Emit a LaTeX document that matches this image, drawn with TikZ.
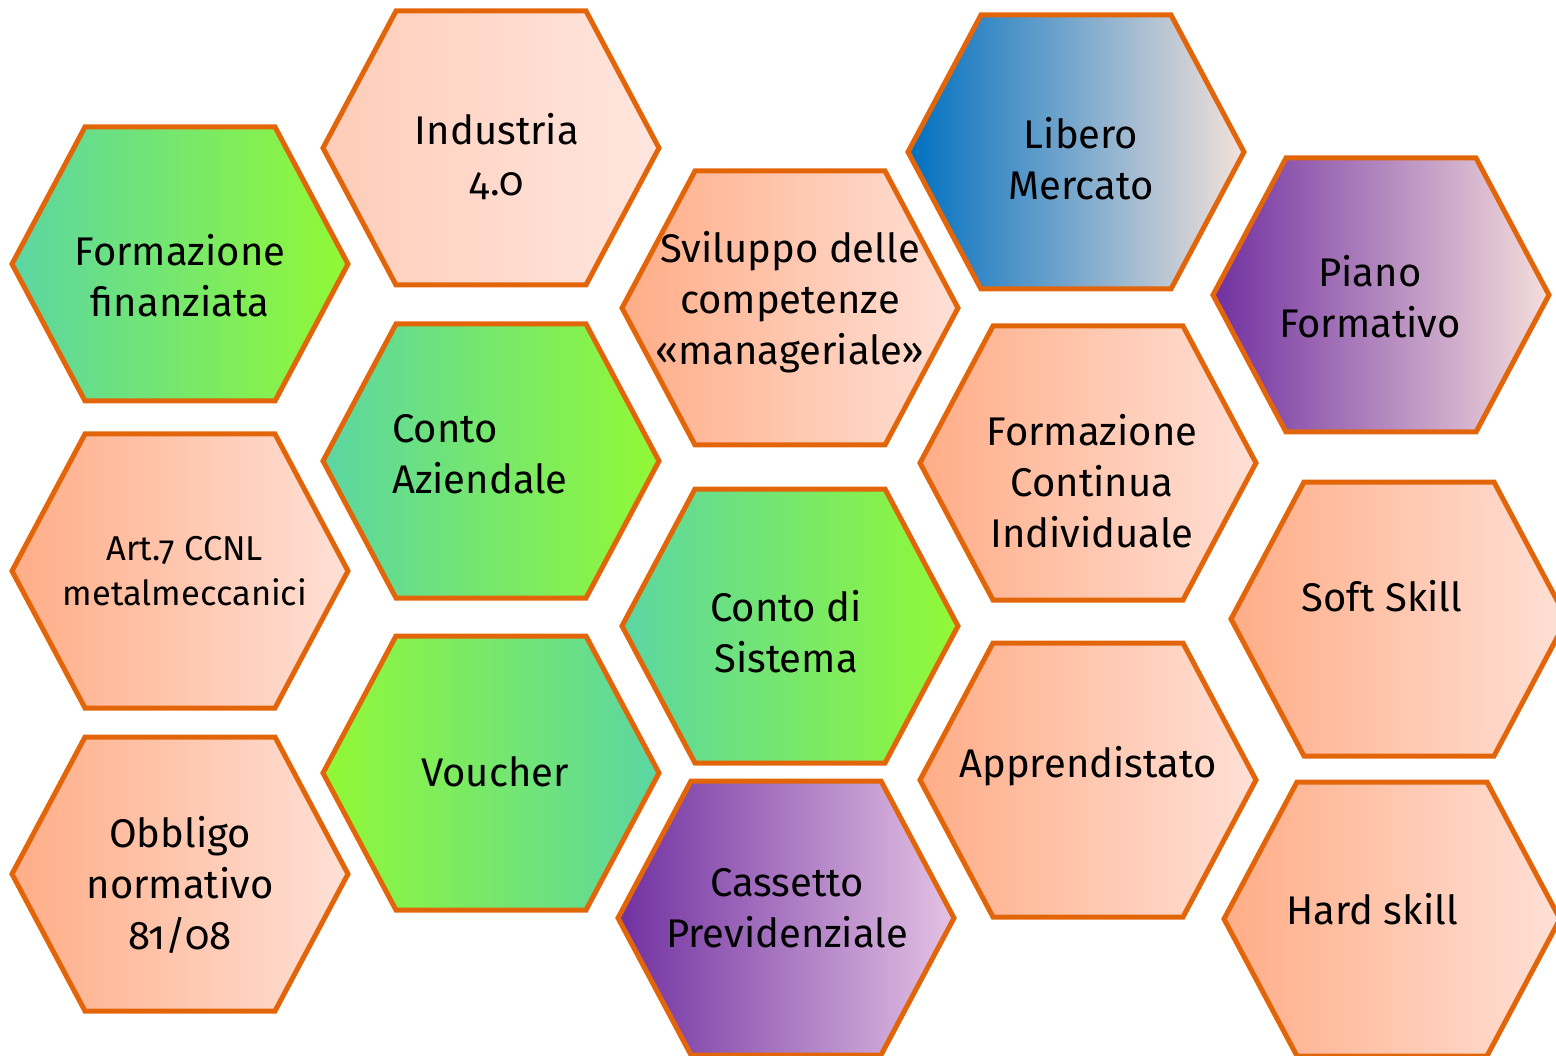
\documentclass[tikz,border=0pt]{standalone}
\usepackage{fontspec}
\setmainfont{Fira Sans}[Numbers=OldStyle]
\definecolor{hexline}{HTML}{E3650A}
\definecolor{peachL}{HTML}{FFAD87}
\definecolor{peachR}{HTML}{FFE0D6}
\definecolor{lightL}{HTML}{FFCCB8}
\definecolor{lightR}{HTML}{FFE6DF}
\definecolor{greenL}{HTML}{5BD6A3}
\definecolor{greenR}{HTML}{92F935}
\definecolor{blueL}{HTML}{0070C0}
\definecolor{blueR}{HTML}{F4E1DA}
\definecolor{purpL}{HTML}{7030A0}
\definecolor{purpR}{HTML}{F5DEDC}
\definecolor{lavR}{HTML}{E4C2E4}
\newcommand\hstr{\rule[-12pt]{0pt}{40pt}}
\newcommand\hstrs{\rule[-10pt]{0pt}{33pt}}
\newcommand\hexcell[4]{%
  \path[hexborder, left color=#3, right color=#4]
    (#1-168,#2) -- (#1-95,#2-137) -- (#1+95,#2-137) -- (#1+168,#2)
    -- (#1+95,#2+137) -- (#1-95,#2+137) -- cycle;}
\tikzset{
  hexborder/.style={draw=hexline, line width=5pt, line join=miter},
  lbl/.style={inner sep=0pt, align=center, text=black, font=\fontsize{40}{51}\selectfont},
  lblsmall/.style={inner sep=0pt, align=center, text=black, font=\fontsize{34.5}{45}\selectfont},
  lblleft/.style={lbl, align=left, anchor=west}
}
\begin{document}
\begin{tikzpicture}[x=1pt, y=-1pt]
\useasboundingbox (0,0) rectangle (1556,1056);
\clip (0,0) rectangle (1556,1056);
% hexagons
\hexcell{180}{264}{greenL}{greenR}
\hexcell{491}{148}{lightL}{lightR}
\hexcell{1076}{152}{blueL}{blueR}
\hexcell{790}{308}{peachL}{peachR}
\hexcell{1381}{295}{purpL}{purpR}
\hexcell{491}{461}{greenL}{greenR}
\hexcell{180}{571}{peachL}{peachR}
\hexcell{1088}{463}{peachL}{peachR}
\hexcell{1399}{619}{peachL}{peachR}
\hexcell{790}{626}{greenL}{greenR}
\hexcell{491}{773}{greenR}{greenL}
\hexcell{180}{874}{peachL}{peachR}
\hexcell{1088}{780}{peachL}{peachR}
\hexcell{786}{918}{purpL}{lavR}
\hexcell{1392}{919}{peachL}{peachR}
% labels
\node[lbl] (fin) at (180,281) {\hstr Formazione\\\hstr finanziata};
\node[lbl] (ind) at (497,160) {\hstr Industria\\\hstr 4.0};
\node[lbl] (lib) at (1081,164) {\hstr Libero\\\hstr Mercato};
\node[lbl] (svi) at (790,303.5) {\hstr Sviluppo delle\\\hstr competenze\\\hstr «manageriale»};
\node[lbl] (pia) at (1370,302) {\hstr Piano\\\hstr Formativo};
\node[lblleft] (caz) at (392,459.5) {\hstr Conto\\\hstr Aziendale};
\node[lblsmall] (art) at (185,576) {\hstrs Art.7 CCNL\\\hstrs metalmeccanici};
\node[lbl] (fci) at (1092,487) {\hstr Formazione\\\hstr Continua\\\hstr Individuale};
\node[lbl] (sof) at (1382,602) {\hstr Soft Skill};
\node[lbl] (cds) at (786,637.5) {\hstr Conto di\\\hstr Sistema};
\node[lbl] (vou) at (495,778) {\hstr Voucher};
\node[lbl] (obb) at (180,889) {\hstr Obbligo\\\hstr normativo\\\hstr 81/08};
\node[lbl] (app) at (1088,768) {\hstr Apprendistato};
\node[lbl] (cas) at (787,914) {\hstr Cassetto\\\hstr Previdenziale};
\node[lbl] (har) at (1372,915) {\hstr Hard skill};
\end{tikzpicture}
\end{document}
